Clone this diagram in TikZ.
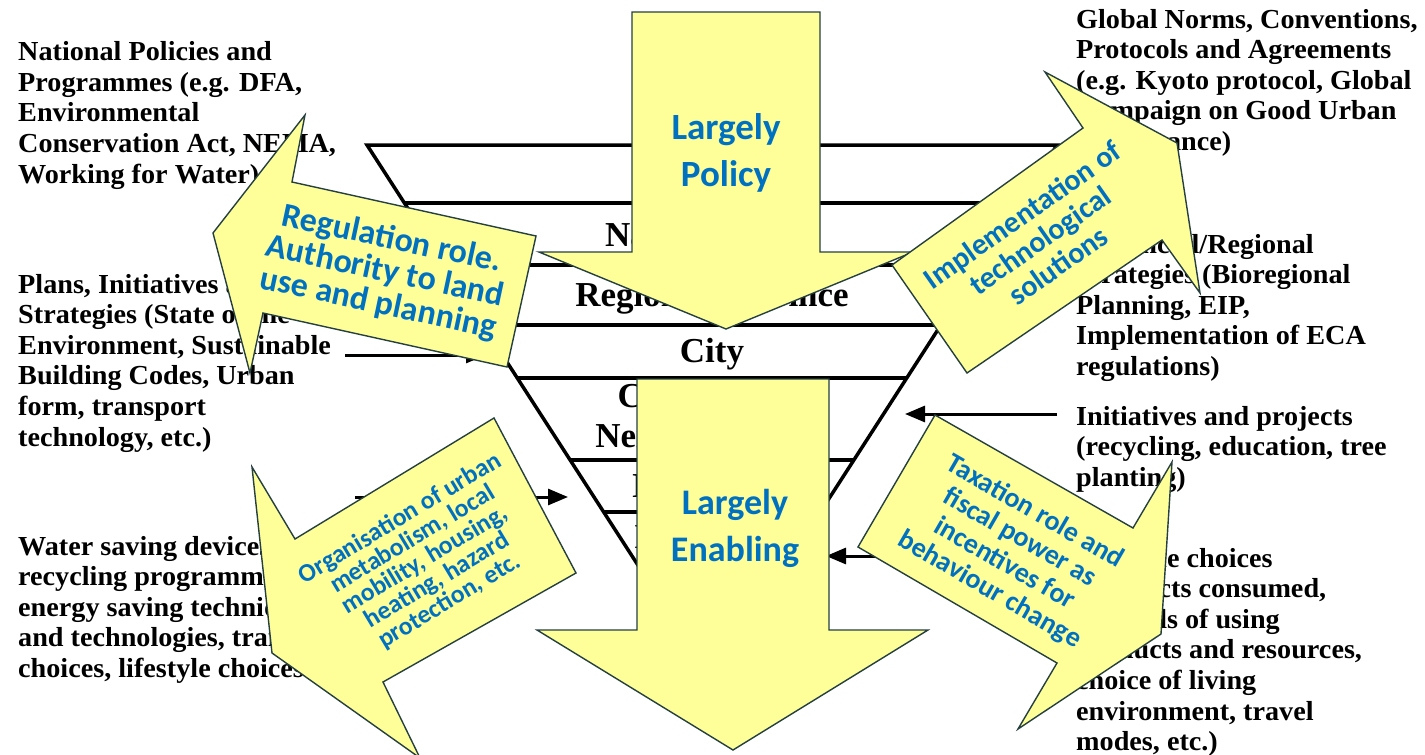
\documentclass[tikz,border=0pt]{standalone}
\usepackage{fontspec}
\setmainfont{Liberation Serif}
\newfontfamily\sidefont{Liberation Serif}[FakeStretch=1.025]
\newfontfamily\calfont{Carlito}
\usetikzlibrary{arrows.meta}
\definecolor{ayel}{HTML}{FFFF99}
\definecolor{aedge}{HTML}{264040}
\definecolor{ablue}{HTML}{0070C0}
\begin{document}
\begin{tikzpicture}[x=1pt,y=-1pt,
  sidetext/.style={anchor=north west, inner sep=0pt, align=left, font=\sidefont\bfseries\fontsize{27.5}{30.6}\selectfont},
  bandtext/.style={anchor=base, inner sep=0pt, font=\bfseries\fontsize{35}{40}\selectfont},
  bigarrow/.style={fill=ayel, draw=aedge, line width=1.4pt, line join=miter},
  arrowtext/.style={text=ablue, align=center, inner sep=0pt},
  tri/.style={line width=3.5pt, line join=miter},
  link/.style={line width=3pt, -{Triangle[length=20pt,width=16pt]}}]
\useasboundingbox (0,0) rectangle (1425,755);
\fill[white] (0,0) rectangle (1425,755);

% side texts
\node[sidetext] (l1) at (18,39) {\strut National Policies and\\Programmes (e.g. DFA,\\Environmental\\Conservation Act, NEMA,\\Working for Water)};
\node[sidetext] (l2) at (18,271.5) {\strut Plans, Initiatives and\\Strategies (State of the\\Environment, Sustainable\\Building Codes, Urban\\form, transport\\technology, etc.)};
\node[sidetext] (l3) at (18,533.5) {\strut Water saving devices,\\recycling programmes,\\energy saving techniques\\and technologies, transport\\choices, lifestyle choices};
\node[sidetext] (r1) at (1076,6.5) {\strut Global Norms, Conventions,\\Protocols and Agreements\\(e.g. Kyoto protocol, Global\\Campaign on Good Urban\\Governance)};
\node[sidetext] (r2) at (1076,231.5) {\strut Provincial/Regional\\Strategies (Bioregional\\Planning, EIP,\\Implementation of ECA\\regulations)};
\node[sidetext] (r3) at (1076,403.5) {\strut Initiatives and projects\\(recycling, education, tree\\planting)};
\node[sidetext] (r4) at (1076,545.5) {\strut Lifestyle choices\\(products consumed,\\methods of using\\products and resources,\\choice of living\\environment, travel\\modes, etc.)};

% inverted triangle with bands
\coordinate (tl) at (367,145);
\coordinate (tr) at (1057,145);
\coordinate (ap) at (712,680);
\draw[tri] (tl) -- (tr) -- (ap) -- cycle;
\foreach \yy in {203,265,325,378,460,512}{
  \draw[tri] ({367+0.6449*(\yy-145)},\yy) -- ({1057-0.6449*(\yy-145)},\yy);
}
\node[bandtext] (b1) at (712,246) {National/State};
\node[bandtext] (b2) at (712,306) {Regional/Province};
\node[bandtext] (b3) at (712,362) {City};
\node[bandtext] (b4) at (712,407) {Community/};
\node[bandtext] (b5) at (712,447) {Neighbourhood};
\node[bandtext] (b6) at (712,497) {Household};
\node[bandtext] (b7) at (712,548) {Individual};

% horizontal connectors
\coordinate (a1s) at (345,355); \coordinate (a1e) at (486,355);
\coordinate (a2s) at (355,497); \coordinate (a2e) at (568,497);
\coordinate (a3s) at (1057,414); \coordinate (a3e) at (905,414);
\coordinate (a4s) at (1062,556); \coordinate (a4e) at (826,556);
\draw[link] (a1s) -- (a1e);
\draw[link] (a2s) -- (a2e);
\draw[link] (a3s) -- (a3e);
\draw[link] (a4s) -- (a4e);

% big arrows
\draw[bigarrow] (632,12) -- (820,12) -- (820,252) -- (913,252) -- (726,329) -- (539,252) -- (632,252) -- cycle;
\node[arrowtext, font=\calfont\bfseries\fontsize{37}{47}\selectfont] (tpol) at (726,153) {Largely\\Policy};

\draw[bigarrow] (637,379) -- (829,379) -- (829,630) -- (928,630) -- (733,750) -- (537,630) -- (637,630) -- cycle;
\node[arrowtext, font=\calfont\bfseries\fontsize{36}{47}\selectfont] (tena) at (735,528) {Largely\\Enabling};

\draw[bigarrow] (536,236) -- (292,182) -- (305,115) -- (213,233) -- (250,373) -- (263,313) -- (507,367) -- cycle;
\node[arrowtext, rotate=-12, font=\calfont\bfseries\fontsize{34}{33}\selectfont] (treg) at (385,272) {Regulation role.\\Authority to land\\use and planning};

\draw[bigarrow] (892,265) -- (1083,128) -- (1045,72) -- (1177,143) -- (1200,293) -- (1162,240) -- (967,373) -- cycle;
\node[arrowtext, rotate=35, font=\calfont\bfseries\fontsize{30}{31}\selectfont] (timp) at (1040,240) {Implementation of\\technological\\solutions};

\draw[bigarrow] (494,418) -- (295,539) -- (252,467) -- (272,653) -- (420,758) -- (383,682) -- (576,573) -- cycle;
\node[arrowtext, rotate=31, font=\calfont\bfseries\fontsize{25.5}{24}\selectfont] (torg) at (425,560) {Organisation of urban\\metabolism, local\\mobility, housing,\\heating, hazard\\protection, etc.};

\draw[bigarrow] (935,415) -- (1133,528) -- (1172,462) -- (1161,634) -- (1018,729) -- (1057,663) -- (858,547) -- cycle;
\node[arrowtext, rotate=-30, font=\calfont\bfseries\fontsize{28}{30}\selectfont] (ttax) at (1012,551) {Taxation role and\\fiscal power as\\incentives for\\behaviour change};
\end{tikzpicture}
\end{document}
